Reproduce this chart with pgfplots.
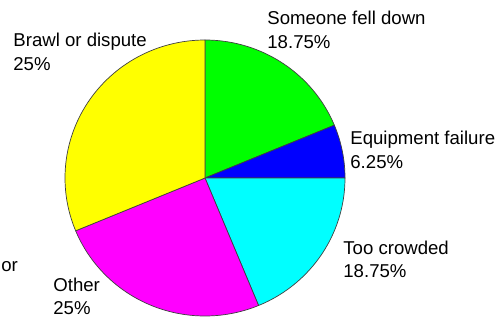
\documentclass[border=0pt]{standalone}
\usepackage{pgfplots}
\pgfplotsset{compat=1.18}
\usepackage{fontspec}
\setmainfont{Liberation Sans}
\tikzset{lbl/.style={anchor=west, align=left, inner sep=0pt, font=\fontsize{9.3}{11.7}\selectfont}}
\begin{document}
\begin{tikzpicture}
\useasboundingbox (0,0) rectangle (251.5pt,158.5pt);
\clip (0,0) rectangle (251.5pt,158.5pt);
\begin{axis}[at={(0,0)}, anchor=south west, scale only axis,
  width=251.5pt, height=158.5pt,
  xmin=-205, xmax=298, ymin=-139, ymax=178,
  hide axis, clip=false, samples=90,
  every axis plot/.append style={draw=black!75, line width=0.35pt}]
% slices: angles from cumulative shares (clockwise from 90 deg)
% Someone fell down 18.75, Equipment failure 6.25, Too crowded 18.75, Other 25, Brawl or dispute (drawn share 31.25)
\addplot[fill={rgb,1:red,0;green,1;blue,0}, domain=22.5:90] ({140*cos(x)},{138*sin(x)}) -- (axis cs:0,0) -- cycle;
\addplot[fill={rgb,1:red,0;green,0;blue,1}, domain=0:22.5] ({140*cos(x)},{138*sin(x)}) -- (axis cs:0,0) -- cycle;
\addplot[fill={rgb,1:red,0;green,1;blue,1}, domain=-67.5:0] ({140*cos(x)},{138*sin(x)}) -- (axis cs:0,0) -- cycle;
\addplot[fill={rgb,1:red,1;green,0;blue,1}, domain=-157.5:-67.5] ({140*cos(x)},{138*sin(x)}) -- (axis cs:0,0) -- cycle;
\addplot[fill={rgb,1:red,1;green,1;blue,0}, domain=90:202.5] ({140*cos(x)},{138*sin(x)}) -- (axis cs:0,0) -- cycle;
\node[lbl] at (axis cs:62,148) {Someone fell down\\18.75\%};
\node[lbl] at (axis cs:145,28) {Equipment failure\\6.25\%};
\node[lbl] at (axis cs:138,-81.5) {Too crowded\\18.75\%};
\node[lbl] at (axis cs:-152,-118.5) {Other\\25\%};
\node[lbl] at (axis cs:-192,126) {Brawl or dispute\\25\%};
\node[lbl] at (axis cs:-204,-89) {or};
\end{axis}
\end{tikzpicture}
\end{document}
